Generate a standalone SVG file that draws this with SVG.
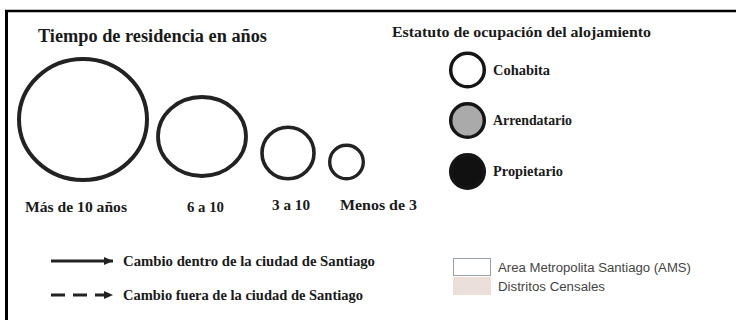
<svg xmlns="http://www.w3.org/2000/svg" width="736" height="320" viewBox="0 0 736 320">
<defs>
<style>
.t{font-family:"Liberation Serif","Times New Roman",serif;font-weight:bold;fill:#1a1a1a}
.s{font-family:"Liberation Sans",Arial,sans-serif;font-size:12px;fill:#444}
.ring{fill:none;stroke:#222}
.leg{stroke:#151515;stroke-width:3.5}
.arr{stroke:#222;stroke-width:3;fill:none}
</style>
<marker id="ah" markerUnits="userSpaceOnUse" markerWidth="10" markerHeight="8" refX="9" refY="4" orient="auto">
<path d="M0,0 L9,4 L0,8 Z" fill="#222"/>
</marker>
</defs>
<rect x="0" y="0" width="736" height="320" fill="#fff"/>
<g id="frame">
<line x1="5" y1="11" x2="736" y2="11" stroke="#000" stroke-width="2.5"/>
<line x1="6.5" y1="10" x2="6.5" y2="320" stroke="#000" stroke-width="3"/>
</g>
<g id="title-tiempo"><text class="t" x="38" y="42" font-size="18" textLength="229" lengthAdjust="spacingAndGlyphs">Tiempo de residencia en años</text></g>
<g id="c-mas10">
<ellipse class="ring" cx="83" cy="119.5" rx="64" ry="60.5" stroke-width="4"/>
<text class="t" x="25" y="212" font-size="15" textLength="102" lengthAdjust="spacingAndGlyphs">Más de 10 años</text>
</g>
<g id="c-6a10">
<ellipse class="ring" cx="202" cy="136.5" rx="44" ry="39.5" stroke-width="3.8"/>
<text class="t" x="187" y="211.5" font-size="15" textLength="37" lengthAdjust="spacingAndGlyphs">6 a 10</text>
</g>
<g id="c-3a10">
<ellipse class="ring" cx="288" cy="153" rx="26" ry="25.8" stroke-width="3.6"/>
<text class="t" x="272" y="209.5" font-size="15" textLength="38" lengthAdjust="spacingAndGlyphs">3 a 10</text>
</g>
<g id="c-menos3">
<circle class="ring" cx="346.5" cy="162" r="16.8" stroke-width="3.4"/>
<text class="t" x="340" y="209.5" font-size="15" textLength="77" lengthAdjust="spacingAndGlyphs">Menos de 3</text>
</g>
<g id="title-estatuto"><text class="t" x="392" y="37" font-size="14" textLength="259" lengthAdjust="spacingAndGlyphs">Estatuto de ocupación del alojamiento</text></g>
<g id="cohabita">
<circle class="leg" cx="467.5" cy="70" r="16.8" fill="#fff"/>
<text class="t" x="493" y="74.5" font-size="14" textLength="57" lengthAdjust="spacingAndGlyphs">Cohabita</text>
</g>
<g id="arrendatario">
<circle class="leg" cx="467.5" cy="120.5" r="16.8" fill="#aaaaaa"/>
<text class="t" x="493" y="125" font-size="14" textLength="79" lengthAdjust="spacingAndGlyphs">Arrendatario</text>
</g>
<g id="propietario">
<circle class="leg" cx="467.5" cy="171.5" r="16.8" fill="#111"/>
<text class="t" x="493" y="176" font-size="14" textLength="70" lengthAdjust="spacingAndGlyphs">Propietario</text>
</g>
<g id="connectors">
<line class="arr" x1="51" y1="261" x2="113" y2="261" marker-end="url(#ah)"/>
<line class="arr" x1="51" y1="295" x2="113" y2="295" stroke-dasharray="14 8" marker-end="url(#ah)"/>
</g>
<g id="lbl-dentro"><text class="t" x="123" y="265.5" font-size="14" textLength="252" lengthAdjust="spacingAndGlyphs">Cambio dentro de la ciudad de Santiago</text></g>
<g id="lbl-fuera"><text class="t" x="123" y="299.5" font-size="14" textLength="240" lengthAdjust="spacingAndGlyphs">Cambio fuera de la ciudad de Santiago</text></g>
<g id="ams">
<rect x="453.5" y="258.5" width="37" height="17" fill="#fff" stroke="#9aa0a8" stroke-width="1"/>
<text class="s" x="498" y="272" textLength="193" lengthAdjust="spacingAndGlyphs">Area Metropolita Santiago (AMS)</text>
</g>
<g id="distritos">
<rect x="453.5" y="277.5" width="37" height="17" fill="#eadfda" stroke="#f2ddd4" stroke-width="1"/>
<text class="s" x="498" y="291" textLength="107" lengthAdjust="spacingAndGlyphs">Distritos Censales</text>
</g>
</svg>
